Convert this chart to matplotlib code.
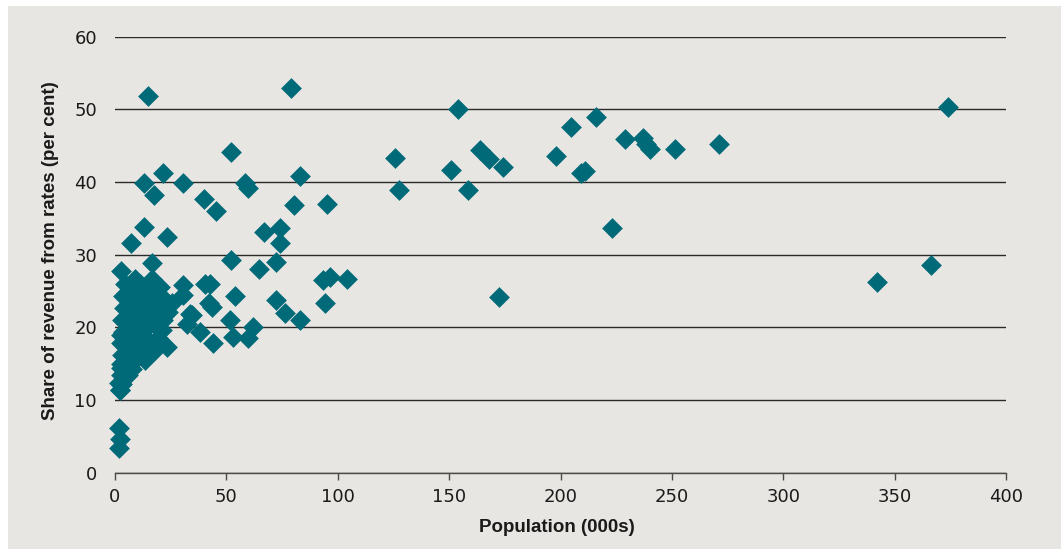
import matplotlib
matplotlib.use("Agg")
import matplotlib.pyplot as plt
from matplotlib.patches import Rectangle

# Population (thousands) and share of revenue raised from rates (per cent)
population = [
    # larger councils
    14.8, 79.1, 52.2, 13.1, 21.5, 17.6, 30.6, 58.5, 59.5, 83.1,
    39.9, 45.2, 80.3, 95.1, 13.1, 23.3, 7.2, 66.8, 74.1, 74.0,
    72.5, 64.7, 52.3, 16.6, 2.6, 93.4, 96.4, 104.2, 94.2, 53.8,
    72.1, 76.4, 83.0, 61.8, 59.8, 51.8, 53.0, 44.1, 38.1, 43.4,
    42.0, 33.6, 32.5, 40.4, 42.6, 30.6, 30.6,
    125.9, 127.4, 150.7, 154.1, 158.3, 163.7, 167.8, 174.3, 172.3, 197.9,
    204.8, 216.1, 209.3, 211.0, 223.2, 229.0, 236.9, 238.5, 240.0, 251.3,
    271.1, 342.2, 366.5, 374.0,
    # very small councils
    1.8, 2.3, 1.8,
    # dense group of small councils
    9.0, 16.6, 20.2, 25.4, 23.9, 20.9, 34.4, 23.2, 19.4, 20.9,
    17.9, 13.5, 6.0, 2.4, 2.0, 2.5, 2.6,
    4.5, 7.5, 11.0, 13.5, 17.5, 3.5, 6.5, 9.5, 12.5, 15.5,
    19.0, 4.0, 7.0, 10.0, 13.0, 16.5, 21.5, 3.0, 5.5, 8.5,
    11.5, 14.5, 18.0, 3.5, 6.5, 9.5, 12.5, 15.5, 2.8, 5.0,
    8.0, 11.0, 14.5, 3.0, 6.0, 9.0, 2.7, 4.5, 7.5, 2.5,
    4.0, 3.0, 2.4,
]
rates_share = [
    51.8, 52.9, 44.2, 39.8, 41.3, 38.2, 39.9, 39.8, 39.2, 40.8,
    37.7, 36.0, 36.9, 37.0, 33.8, 32.4, 31.6, 33.1, 33.7, 31.6,
    29.0, 28.1, 29.3, 28.9, 27.8, 26.5, 26.9, 26.6, 23.4, 24.3,
    23.7, 22.0, 21.0, 20.0, 18.5, 21.0, 18.7, 17.9, 19.3, 22.8,
    23.3, 21.9, 20.4, 26.0, 26.0, 25.8, 24.4,
    43.3, 38.9, 41.7, 50.1, 38.9, 44.4, 43.2, 42.1, 24.2, 43.6,
    47.6, 48.9, 41.2, 41.5, 33.7, 45.9, 46.1, 45.3, 44.6, 44.6,
    45.3, 26.2, 28.6, 50.3,
    6.1, 4.6, 3.4,
    26.7, 26.7, 25.6, 23.3, 22.1, 24.2, 21.7, 17.3, 18.5, 19.6,
    16.9, 15.5, 13.4, 11.4, 12.3, 14.4, 18.9,
    26.0, 25.6, 25.9, 25.0, 24.8, 24.3, 24.0, 23.8, 23.6, 23.2,
    22.6, 22.6, 22.3, 22.0, 21.8, 21.4, 21.0, 21.0, 20.7, 20.4,
    20.1, 20.0, 20.3, 19.3, 19.0, 18.7, 18.5, 18.0, 17.8, 17.4,
    17.2, 16.9, 16.5, 16.2, 15.8, 15.5, 15.0, 14.6, 14.3, 13.5,
    13.0, 12.2, 11.4,
]

x_ticks = [0, 50, 100, 150, 200, 250, 300, 350, 400]
y_ticks = [0, 10, 20, 30, 40, 50, 60]
x_label = "Population (000s)"
y_label = "Share of revenue from rates (per cent)"

W, H = 1061, 549
fig = plt.figure(figsize=(W / 100, H / 100), dpi=100)
fig.patch.set_facecolor("white")
fig.patches.append(Rectangle((8 / W, 0), 1 - 8 / W, 1 - 6 / H,
                             transform=fig.transFigure,
                             facecolor="#E8E6E2", edgecolor="none", zorder=-10))

ax = fig.add_axes([115 / W, 1 - 472.7 / H, 891 / W, 436 / H])
ax.set_facecolor("none")

ax.scatter(population, rates_share, marker="D", s=112, color="#006A78",
           linewidths=0, zorder=3, clip_on=False)

ax.set_xlim(0, 400)
ax.set_ylim(0, 60)
ax.set_xticks(x_ticks)
ax.set_yticks(y_ticks)

ax.grid(axis="y", color="#2a2a2a", linewidth=1.0, zorder=1)
ax.set_axisbelow(True)

for side in ("top", "right", "left"):
    ax.spines[side].set_visible(False)
ax.spines["bottom"].set_color("#4a4a4a")
ax.spines["bottom"].set_linewidth(1.0)

ax.tick_params(axis="y", length=0, pad=13, labelsize=13, labelcolor="#1a1a1a")
ax.tick_params(axis="x", direction="out", length=5, width=1, color="#4a4a4a",
               pad=6, labelsize=13, labelcolor="#1a1a1a")

label_font = dict(family=["Liberation Sans Narrow", "Liberation Sans", "DejaVu Sans"],
                  weight="bold", size=13.5, color="#1a1a1a")
ax.set_xlabel(x_label, **label_font)
ax.set_ylabel(y_label, **label_font)
ax.xaxis.set_label_coords(0.496, -(519 - 472.7) / 436)
ax.yaxis.set_label_coords(-(115 - 59) / 891, 0.51)

fig.savefig("out.png", dpi=100, facecolor=fig.get_facecolor())
